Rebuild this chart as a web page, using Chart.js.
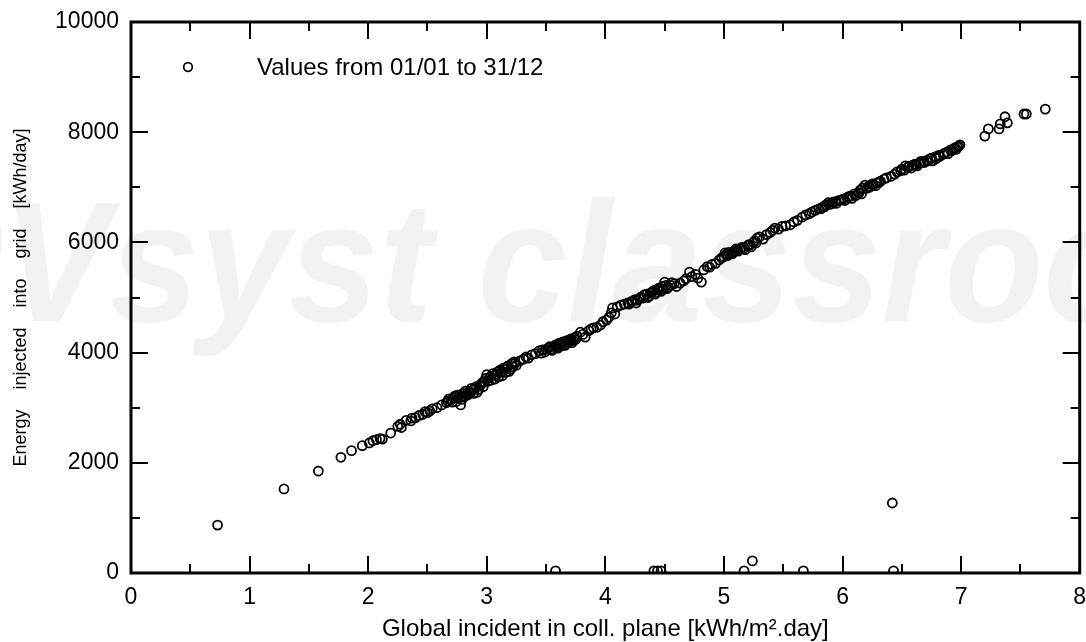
<!DOCTYPE html>
<html><head><meta charset="utf-8">
<script src="https://cdn.jsdelivr.net/npm/chart.js@4"></script>
<style>html,body{margin:0;padding:0;background:#fff}</style>
</head><body>
<canvas id="c" width="1086" height="642"></canvas>
<script>
const irradiance = [
0.73,1.29,1.58,1.77,1.86,1.95,2.01,2.04,2.07,2.10,2.12,2.19,2.25,2.27,2.28,2.32,2.37,2.36,2.40,2.43,2.46,2.48,2.50,2.52,2.54,2.58,2.62,2.66,2.67,2.70,
2.72,2.74,2.76,2.77,2.78,2.79,2.80,2.81,2.83,2.85,2.86,2.88,2.90,2.92,2.94,2.96,2.97,2.99,3.00,3.01,3.03,3.05,3.07,3.09,3.11,3.13,3.15,3.17,3.19,3.21,
3.23,3.25,3.28,3.31,3.33,3.35,3.38,3.41,3.44,3.47,3.49,3.52,3.54,3.57,3.59,3.62,3.64,3.66,3.68,3.70,3.72,3.74,3.76,3.79,3.81,3.83,3.86,3.88,3.90,3.93,
3.96,3.98,4.01,4.03,4.05,4.06,4.08,4.10,4.13,4.16,4.19,4.22,4.25,4.27,4.30,4.33,4.36,4.38,4.40,4.42,4.44,4.46,4.48,4.50,4.52,4.55,4.58,4.60,4.63,4.66,
4.68,4.71,4.73,4.76,4.78,4.81,4.83,4.86,4.88,4.90,4.93,4.96,4.98,5.01,5.03,5.06,5.09,5.11,5.14,5.17,5.20,5.22,5.25,5.28,5.30,5.33,5.36,5.39,5.41,5.43,
5.46,5.49,5.52,5.56,5.59,5.62,5.66,5.69,5.72,5.74,5.77,5.80,5.83,5.86,5.88,5.91,5.94,5.97,6.01,6.04,6.07,6.10,6.12,6.15,6.17,6.19,6.22,6.25,6.29,6.32,
6.35,6.37,6.41,6.44,6.46,6.49,6.53,6.55,6.59,6.62,6.65,6.68,6.71,6.74,6.76,6.78,6.81,6.85,6.88,6.91,6.94,6.97,6.99,7.20,7.23,7.32,7.33,7.37,7.39,7.53,
7.55,7.71,3.58,4.41,4.44,4.47,5.17,5.24,5.67,6.43,6.42,
2.68,2.71,2.73,2.75,2.78,2.82,2.84,2.87,2.89,2.91,2.93,2.95,2.98,3.02,3.04,3.06,3.08,3.10,3.12,3.14,3.16,3.18,3.20,3.22,3.24,
3.46,3.50,3.53,3.55,3.58,3.60,3.61,3.63,3.65,3.67,3.69,3.71,3.73,3.75,
4.20,4.23,4.26,4.29,4.32,4.35,4.37,4.39,4.41,4.43,4.45,4.47,4.49,4.51,4.53,4.56,
5.00,5.02,5.04,5.07,5.08,5.10,5.12,5.15,5.18,5.21,5.23,5.26,5.27,
5.82,5.85,5.89,5.92,5.95,5.99,6.02,6.05,6.08,6.11,6.14,6.16,6.20,6.23,6.26,6.28,6.31,
6.50,6.52,6.56,6.58,6.61,6.63,6.66,6.69,6.72,6.75,6.79,6.82,6.86,6.89,6.92,6.95,6.96,6.98
];
const energyInjected = [
870,1525,1850,2100,2220,2310,2360,2400,2420,2440,2430,2540,2660,2700,2640,2770,2810,2760,2820,2860,2880,2930,2910,2940,2980,3000,3050,3090,3120,3140,
3180,3110,3170,3230,3050,3150,3260,3200,3250,3290,3270,3320,3340,3280,3400,3450,3380,3530,3600,3480,3560,3620,3520,3650,3680,3580,3700,3740,3660,3800,
3830,3770,3850,3880,3920,3900,3960,3980,4030,4050,4010,4080,4060,4110,4100,4150,4190,4130,4220,4230,4180,4270,4300,4370,4330,4280,4400,4430,4450,4460,
4500,4560,4590,4640,4720,4810,4700,4830,4860,4880,4900,4920,4960,4950,5010,5050,5000,5080,5110,5060,5140,5140,5200,5280,5160,5220,5250,5200,5260,5300,
5340,5460,5380,5420,5350,5280,5500,5560,5550,5600,5620,5680,5720,5810,5760,5800,5840,5860,5880,5900,5940,5950,6000,6080,6100,6060,6140,6180,6220,6260,
6240,6290,6300,6320,6370,6400,6460,6500,6520,6550,6580,6610,6640,6680,6720,6700,6740,6760,6790,6810,6840,6880,6860,6950,6990,7040,7020,7060,7080,7110,
7150,7170,7200,7240,7280,7300,7390,7360,7400,7410,7440,7460,7490,7520,7480,7550,7580,7600,7640,7680,7700,7730,7770,7930,8060,8060,8150,8280,8170,8330,
8330,8420,40,40,40,40,40,220,40,40,1270,
3160,3100,3210,3230,3190,3300,3230,3350,3260,3380,3330,3420,3470,3540,3500,3580,3600,3560,3640,3720,3640,3760,3700,3740,3810,
3990,4060,4110,4040,4140,4080,4170,4120,4200,4160,4190,4250,4220,4240,
4880,4940,4900,4980,4990,5060,5030,5090,5130,5090,5170,5110,5150,5220,5190,5270,
5740,5780,5820,5790,5830,5880,5840,5910,5870,5960,5920,6030,5990,
6610,6650,6690,6730,6710,6770,6760,6830,6800,6850,6900,6880,6980,7000,7040,7030,7090,
7330,7310,7380,7350,7420,7390,7470,7450,7480,7530,7520,7560,7620,7610,7660,7720,7690,7750
];
const xTicks = [0,1,2,3,4,5,6,7,8];
const xMinorTicks = [0.5,1.5,2.5,3.5,4.5,5.5,6.5,7.5];
const yTicks = [0,2000,4000,6000,8000,10000];
const yMinorTicks = [1000,3000,5000,7000,9000];
const legendLabel = 'Values from 01/01 to 31/12';
const xTitle = 'Global incident in coll. plane [kWh/m\u00B2.day]';
const yTitle = 'Energy    injected    into    grid    [kWh/day]';
const watermark = 'PVsyst classroom';

const points = irradiance.map((x, i) => ({x: x, y: energyInjected[i]}));
const FONT = '"Liberation Sans", Arial, Helvetica, sans-serif';

const framePlugin = {
  id: 'frame',
  beforeDraw(chart) {
    const ctx = chart.ctx;
    ctx.save();
    ctx.fillStyle = '#f2f2f2';
    ctx.font = 'italic bold 170px ' + FONT;
    ctx.textBaseline = 'alphabetic';
    ctx.textAlign = 'left';
    ctx.translate(-106, 321);
    ctx.scale(0.95, 1);
    ctx.fillText(watermark, 0, 0);
    ctx.restore();
  },
  afterDatasetsDraw(chart) {
    const ctx = chart.ctx;
    const a = chart.chartArea;
    const xs = chart.scales.x, ys = chart.scales.y;
    ctx.save();
    ctx.strokeStyle = '#000';
    ctx.lineWidth = 2;
    ctx.beginPath();
    const tickX = (v, len) => {
      const p = Math.round(xs.getPixelForValue(v));
      ctx.moveTo(p, a.bottom); ctx.lineTo(p, a.bottom - len);
      ctx.moveTo(p, a.top); ctx.lineTo(p, a.top + len);
    };
    const tickY = (v, len) => {
      const p = Math.round(ys.getPixelForValue(v));
      ctx.moveTo(a.left, p); ctx.lineTo(a.left + len, p);
      ctx.moveTo(a.right, p); ctx.lineTo(a.right - len, p);
    };
    xTicks.forEach(v => tickX(v, 17));
    xMinorTicks.forEach(v => tickX(v, 9));
    yTicks.forEach(v => tickY(v, 17));
    yMinorTicks.forEach(v => tickY(v, 9));
    ctx.stroke();
    ctx.lineWidth = 3;
    ctx.strokeRect(a.left, a.top, a.right - a.left, a.bottom - a.top);
    // legend
    ctx.lineWidth = 1.7;
    ctx.beginPath();
    ctx.arc(188, 67, 4.3, 0, Math.PI * 2);
    ctx.stroke();
    ctx.fillStyle = '#000';
    ctx.font = '24px ' + FONT;
    ctx.textBaseline = 'middle';
    ctx.textAlign = 'left';
    ctx.fillText(legendLabel, 257, 68);
    ctx.restore();
  }
};

new Chart(document.getElementById('c'), {
  type: 'scatter',
  data: {
    datasets: [{
      label: legendLabel,
      data: points,
      showLine: false,
      pointRadius: 4.5,
      pointHoverRadius: 4.5,
      pointBorderWidth: 1.8,
      pointBorderColor: '#000',
      pointBackgroundColor: 'rgba(0,0,0,0)',
      clip: 0
    }]
  },
  options: {
    responsive: false,
    animation: false,
    events: [],
    layout: { padding: { top: 22, right: 6, left: 0, bottom: 0 } },
    plugins: { legend: { display: false }, tooltip: { enabled: false } },
    scales: {
      x: {
        type: 'linear', min: 0, max: 8,
        afterBuildTicks(s) { s.ticks = xTicks.map(v => ({value: v})); },
        afterFit(s) { s.height = 69; s.paddingLeft = 0; s.paddingRight = 0; },
        grid: { display: false, drawTicks: false },
        border: { display: false },
        ticks: { color: '#000', font: { family: FONT, size: 23 }, padding: 11, maxRotation: 0, callback: v => String(v) },
        title: { display: true, text: xTitle, color: '#000', font: { family: FONT, size: 24 }, padding: { top: 0, bottom: -2 } }
      },
      y: {
        type: 'linear', min: 0, max: 10000,
        afterBuildTicks(s) { s.ticks = yTicks.map(v => ({value: v})); },
        afterFit(s) { s.width = 131; s.paddingTop = 0; s.paddingBottom = 0; },
        grid: { display: false, drawTicks: false },
        border: { display: false },
        ticks: { color: '#000', font: { family: FONT, size: 23 }, padding: 12, callback: v => String(v) },
        title: { display: true, text: yTitle, color: '#000', font: { family: FONT, size: 18 }, padding: { top: 10, bottom: 0 } }
      }
    }
  },
  plugins: [framePlugin]
});
</script>
</body></html>
